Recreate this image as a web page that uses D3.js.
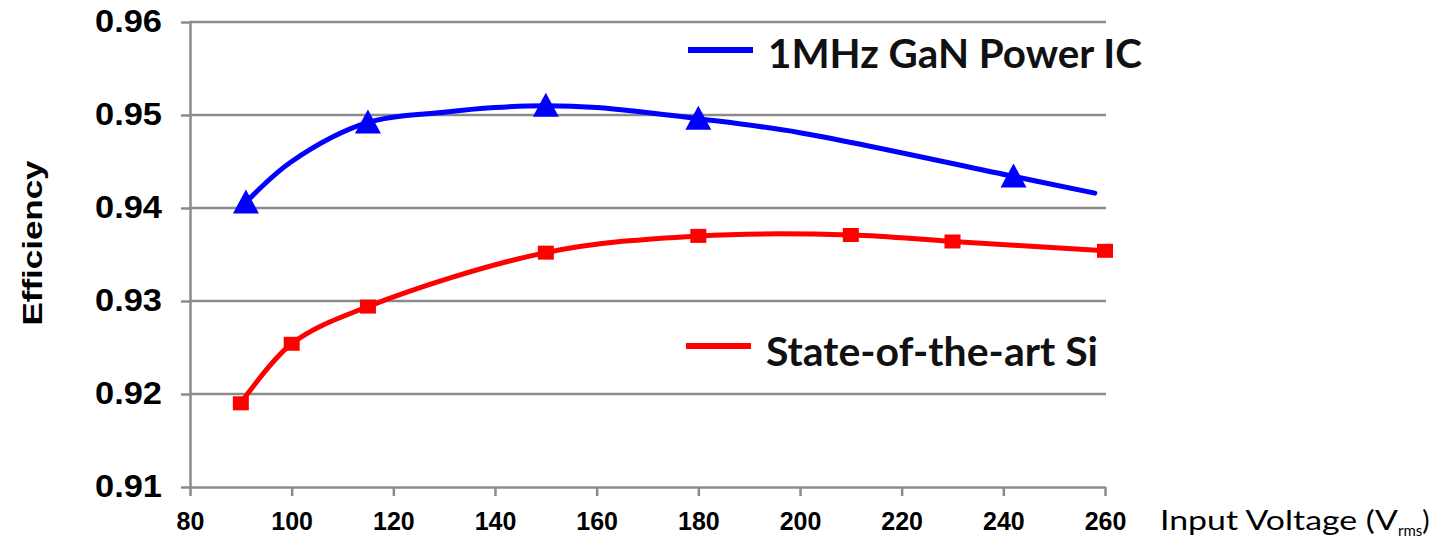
<!DOCTYPE html>
<html>
<head>
<meta charset="utf-8">
<script src="https://cdn.jsdelivr.net/npm/d3@7/dist/d3.min.js"></script>
<style>
  html, body { margin: 0; padding: 0; background: #fff; }
  svg { display: block; }
</style>
</head>
<body>
<svg id="chart" width="1435" height="540"></svg>
<script>
// Efficiency vs. RMS input voltage for two converter designs
const xTicks = [80, 100, 120, 140, 160, 180, 200, 220, 240, 260];
const yTicks = [0.91, 0.92, 0.93, 0.94, 0.95, 0.96];

// 1MHz GaN power IC: smoothed curve samples and marker positions
const ganVoltage    = [91, 100, 115, 130, 140, 150, 160, 180, 200, 242, 258];
const ganEfficiency = [0.9406, 0.9450, 0.9492, 0.9503, 0.9508, 0.9510, 0.9508, 0.9496, 0.9481, 0.9434, 0.9416];
const ganMarkers    = [91, 115, 150, 180, 242];

// State-of-the-art Si converter
const siVoltage    = [90, 100, 115, 150, 180, 210, 230, 260];
const siEfficiency = [0.9190, 0.9254, 0.9294, 0.9352, 0.9370, 0.9371, 0.9364, 0.9354];

const seriesNames = ["1MHz GaN Power IC", "State-of-the-art Si"];

const svg = d3.select("#chart");
const x = d3.scaleLinear().domain([80, 260]).range([190, 1105]);
const y = d3.scaleLinear().domain([0.91, 0.96]).range([487, 22]);

const gridColor = "#8b8b8b";

// horizontal gridlines
svg.append("g").selectAll("line")
  .data(yTicks.slice(1))
  .join("line")
  .attr("x1", x(80)).attr("x2", x(260) + 1)
  .attr("y1", d => y(d)).attr("y2", d => y(d))
  .attr("stroke", gridColor).attr("stroke-width", 2.5);

// y axis
const yAxis = svg.append("g")
  .attr("transform", `translate(${x(80)},0)`)
  .call(d3.axisLeft(y).tickValues(yTicks).tickFormat(d3.format(".2f"))
    .tickSize(9).tickPadding(19).tickSizeOuter(0));
yAxis.select(".domain").attr("stroke", gridColor).attr("stroke-width", 2.5);
yAxis.selectAll(".tick line").attr("stroke", gridColor).attr("stroke-width", 2.5);
yAxis.selectAll(".tick text")
  .attr("font-family", "'Liberation Sans', Arial, sans-serif")
  .attr("font-weight", "bold").attr("font-size", 31).attr("fill", "#000")
  .attr("textLength", 67).attr("lengthAdjust", "spacingAndGlyphs");

// x axis
const xAxis = svg.append("g")
  .attr("transform", `translate(0,${y(0.91)})`)
  .call(d3.axisBottom(x).tickValues(xTicks).tickFormat(d3.format("d"))
    .tickSize(9).tickPadding(16).tickSizeOuter(0));
xAxis.select(".domain").attr("stroke", gridColor).attr("stroke-width", 2.5);
xAxis.selectAll(".tick line").attr("stroke", gridColor).attr("stroke-width", 2.5);
xAxis.selectAll(".tick text")
  .attr("font-family", "'Liberation Sans', Arial, sans-serif")
  .attr("font-weight", "bold").attr("font-size", 25).attr("fill", "#000");

// y axis title
svg.append("text")
  .attr("transform", "translate(42,243) rotate(-90)")
  .attr("text-anchor", "middle")
  .attr("font-family", "'Liberation Sans', Arial, sans-serif")
  .attr("font-weight", "bold").attr("font-size", 27)
  .attr("textLength", 165).attr("lengthAdjust", "spacingAndGlyphs")
  .text("Efficiency");

// x axis title with subscript, one text element
const xTitle = svg.append("text")
  .attr("x", 1160).attr("y", 530)
  .attr("font-family", "Lato, 'Open Sans', sans-serif").attr("font-size", 27);
xTitle.append("tspan")
  .attr("textLength", 238).attr("lengthAdjust", "spacingAndGlyphs")
  .text("Input Voltage (V");
xTitle.append("tspan")
  .attr("font-size", 15).attr("dy", 6)
  .text("rms");
xTitle.append("tspan")
  .attr("dy", -6)
  .text(")");

// series lines
const line = d3.line().curve(d3.curveCatmullRom.alpha(0.5));

const ganPts = ganVoltage.map((v, i) => [x(v), y(ganEfficiency[i])]);
const siPts = siVoltage.map((v, i) => [x(v), y(siEfficiency[i])]);

svg.append("path")
  .attr("d", line(siPts))
  .attr("fill", "none").attr("stroke", "#ff0000")
  .attr("stroke-width", 5).attr("stroke-linejoin", "round").attr("stroke-linecap", "round");

svg.append("path")
  .attr("d", line(ganPts))
  .attr("fill", "none").attr("stroke", "#0000ff")
  .attr("stroke-width", 5).attr("stroke-linejoin", "round").attr("stroke-linecap", "round");

// square markers for Si
svg.append("g").selectAll("rect")
  .data(siVoltage.map((v, i) => ({ v, e: siEfficiency[i] })))
  .join("rect")
  .attr("x", d => x(d.v) - 8).attr("y", d => y(d.e) - 7)
  .attr("width", 16).attr("height", 14)
  .attr("fill", "#ff0000");

// triangle markers for GaN (26 wide, 24 tall, centred on the point)
const triPath = "M0,-13L13,11L-13,11Z";
svg.append("g").selectAll("path")
  .data(ganMarkers.map(v => ({ v, e: ganEfficiency[ganVoltage.indexOf(v)] })))
  .join("path")
  .attr("d", triPath)
  .attr("transform", d => `translate(${x(d.v)},${y(d.e)})`)
  .attr("fill", "#0000ff");

// legend
const legend = [
  { name: seriesNames[0], color: "#0000ff", x1: 688, ly: 50, tx: 768, ty: 68, len: 374 },
  { name: seriesNames[1], color: "#ff0000", x1: 686, ly: 346, tx: 766, ty: 366, len: 332 }
];
const lg = svg.append("g").selectAll("g").data(legend).join("g");
lg.append("line")
  .attr("x1", d => d.x1).attr("x2", d => d.x1 + 65)
  .attr("y1", d => d.ly).attr("y2", d => d.ly)
  .attr("stroke", d => d.color).attr("stroke-width", 6);
lg.append("text")
  .attr("x", d => d.tx).attr("y", d => d.ty)
  .attr("font-family", "Lato, 'Open Sans', sans-serif")
  .attr("font-weight", "bold").attr("font-size", 40).attr("fill", "#111")
  .attr("textLength", d => d.len).attr("lengthAdjust", "spacingAndGlyphs")
  .text(d => d.name);
</script>
</body>
</html>
